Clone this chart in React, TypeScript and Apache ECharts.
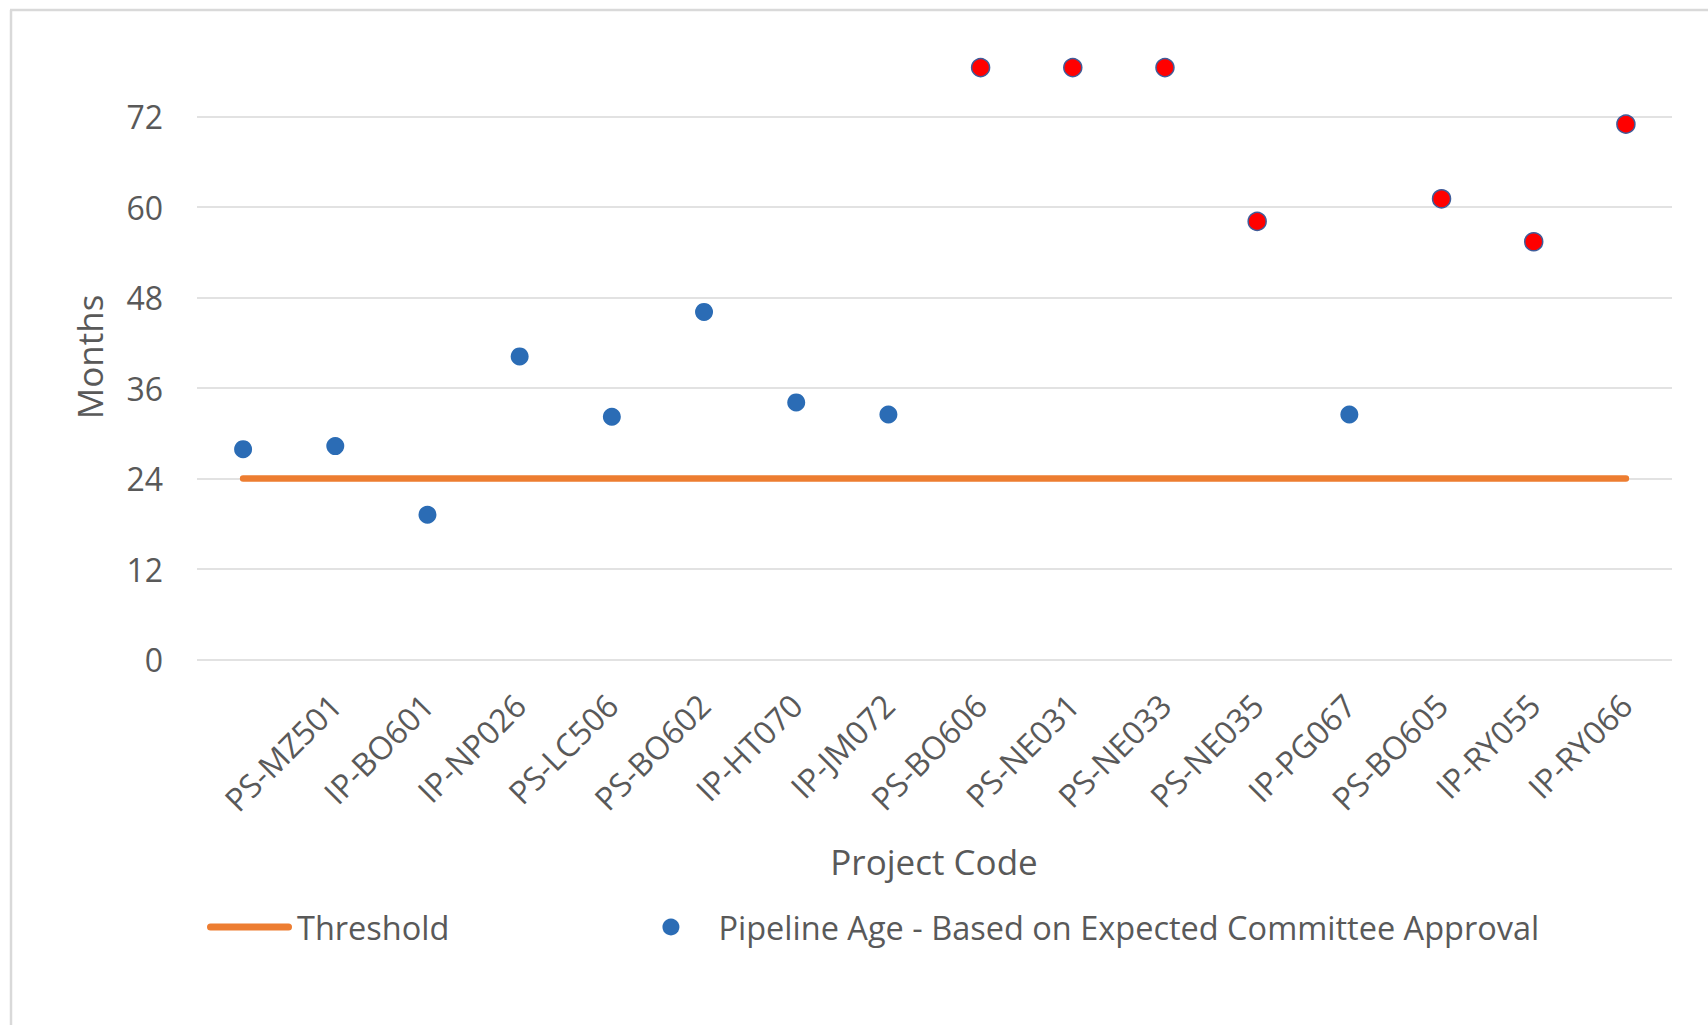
import React, { useEffect, useRef } from 'react';
import * as echarts from 'echarts';

const categories = ['', 'PS-MZ501', 'IP-BO601', 'IP-NP026', 'PS-LC506', 'PS-BO602', 'IP-HT070', 'IP-JM072', 'PS-BO606', 'PS-NE031', 'PS-NE033', 'PS-NE035', 'IP-PG067', 'PS-BO605', 'IP-RY055', 'IP-RY066'];
const pipelineAge = [27.9, 28.3, 19.2, 40.2, 32.2, 46.1, 34.1, 32.5, 78.5, 78.5, 78.5, 58.1, 32.5, 61.1, 55.4, 71.0];
const flagged = [false, false, false, false, false, false, false, false, true, true, true, true, false, true, true, true];
const thresholdValues = [24, 24, 24, 24, 24, 24, 24, 24, 24, 24, 24, 24, 24, 24, 24, 24];
const yTicks = { min: 0, max: 72, interval: 12 };

const FONT = '"Open Sans", "Noto Sans", sans-serif';
const TEXT = '#595959';
const BLUE = '#2B6CB5';
const RED = '#FF0000';
const ORANGE = '#ED7D31';

export default function App() {
  const ref = useRef<HTMLDivElement>(null);
  useEffect(() => {
    const chart = echarts.init(ref.current as HTMLDivElement, null, { renderer: 'svg' });
    chart.setOption({
      animation: false,
      textStyle: { fontFamily: FONT },
      grid: { left: 197, right: 36, top: 116.6, bottom: 365.5 },
      xAxis: {
        type: 'category', data: categories, boundaryGap: true,
        axisLine: { show: false }, axisTick: { show: false }, splitLine: { show: false },
        axisLabel: { interval: 0, rotate: 45, margin: 40, fontSize: 32, color: TEXT, fontFamily: FONT },
      },
      yAxis: {
        type: 'value', min: yTicks.min, max: yTicks.max, interval: yTicks.interval,
        axisLine: { show: false }, axisTick: { show: false },
        axisLabel: { fontSize: 32, color: TEXT, margin: 34, fontFamily: FONT },
        splitLine: { lineStyle: { color: '#d9d9d9', width: 1.5 } },
      },
      legend: {
        left: 202, top: 905.5, itemWidth: 85, itemHeight: 17, itemGap: 213,
        textStyle: { fontSize: 32.5, color: TEXT, fontFamily: FONT },
        data: [
          { name: 'Threshold', icon: 'none' },
          { name: 'Pipeline Age - Based on Expected Committee Approval', icon: 'circle', itemStyle: { color: BLUE, opacity: 1 } },
        ],
      },
      series: [
        {
          name: 'Threshold', type: 'line',
          data: thresholdValues, symbol: 'none', showSymbol: false,
          lineStyle: { color: ORANGE, width: 6.5, cap: 'round' }, itemStyle: { color: ORANGE },
          z: 2,
        },
        {
          name: 'Pipeline Age - Based on Expected Committee Approval', type: 'scatter',
          symbolSize: 18, clip: false, itemStyle: { color: BLUE, opacity: 1 }, z: 3,
          data: pipelineAge.map((v, i) => flagged[i]
            ? { value: v, itemStyle: { color: RED, borderColor: '#3F5C9A', borderWidth: 1.5, opacity: 1 } }
            : { value: v }),
        },
      ],
      graphic: [
        { type: 'line', shape: { x1: 10, y1: 10, x2: 1708, y2: 10 }, style: { stroke: '#d9d9d9', lineWidth: 2.5 } },
        { type: 'line', shape: { x1: 11, y1: 10, x2: 11, y2: 1025 }, style: { stroke: '#d9d9d9', lineWidth: 2.5 } },
        { type: 'line', shape: { x1: 210.5, y1: 927, x2: 288.5, y2: 927 }, style: { stroke: ORANGE, lineWidth: 7, lineCap: 'round' } },
        {
          type: 'text', x: 89, y: 357, rotation: Math.PI / 2,
          style: { text: 'Months', fontSize: 35, fontFamily: FONT, fill: TEXT, align: 'center', verticalAlign: 'middle', textAlign: 'center', textVerticalAlign: 'middle' },
        },
        {
          type: 'text', x: 934, y: 861,
          style: { text: 'Project Code', fontSize: 35, fontFamily: FONT, fill: TEXT, align: 'center', verticalAlign: 'middle', textAlign: 'center', textVerticalAlign: 'middle' },
        },
      ],
    });
    return () => chart.dispose();
  }, []);
  return <div ref={ref} style={{ position: 'fixed', left: 0, top: 0, width: 1708, height: 1025, background: '#fff' }} />;
}
